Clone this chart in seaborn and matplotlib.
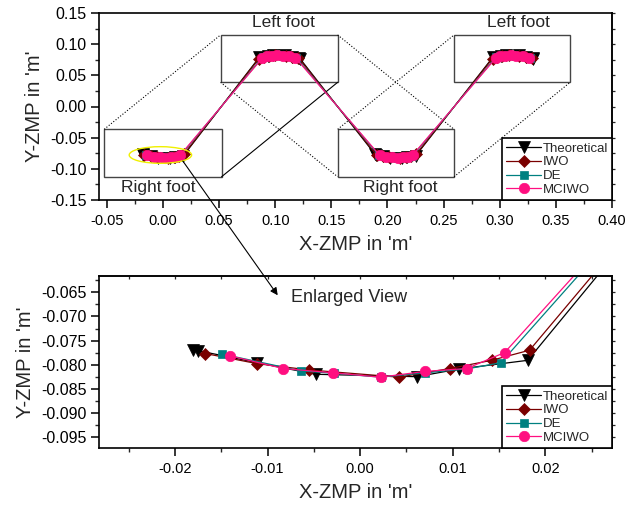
import matplotlib
matplotlib.use("Agg")
import matplotlib.pyplot as plt
from matplotlib.patches import Rectangle, Ellipse
from matplotlib.ticker import MultipleLocator, FormatStrFormatter
import numpy as np
import pandas as pd
import seaborn as sns

# ZMP trajectories: right foot, left foot, right foot, left foot (x, y in metres)
theo_x = [-0.0180, -0.0175, -0.0111, -0.0048, 0.0061, 0.0107, 0.0181,
          0.0859, 0.0933, 0.0979, 0.1088, 0.1151, 0.1215, 0.1220,
          0.1890, 0.1895, 0.1959, 0.2022, 0.2131, 0.2177, 0.2251,
          0.2939, 0.3013, 0.3059, 0.3168, 0.3231, 0.3295, 0.3300]
theo_y = [-0.0769, -0.0771, -0.0796, -0.0820, -0.0825, -0.0809, -0.0791,
          0.0791, 0.0809, 0.0825, 0.0820, 0.0796, 0.0771, 0.0769,
          -0.0769, -0.0771, -0.0796, -0.0820, -0.0825, -0.0809, -0.0791,
          0.0791, 0.0809, 0.0825, 0.0820, 0.0796, 0.0771, 0.0769]

iwo_x = [-0.0167, -0.0111, -0.0055, 0.0042, 0.0097, 0.0142, 0.0183,
         0.0857, 0.0898, 0.0943, 0.0998, 0.1095, 0.1151, 0.1207,
         0.1903, 0.1959, 0.2015, 0.2112, 0.2167, 0.2212, 0.2253,
         0.2937, 0.2978, 0.3023, 0.3078, 0.3175, 0.3231, 0.3287]
iwo_y = [-0.0777, -0.0798, -0.0811, -0.0826, -0.0808, -0.0791, -0.0770,
         0.0770, 0.0791, 0.0808, 0.0826, 0.0811, 0.0798, 0.0777,
         -0.0777, -0.0798, -0.0811, -0.0826, -0.0808, -0.0791, -0.0770,
         0.0770, 0.0791, 0.0808, 0.0826, 0.0811, 0.0798, 0.0777]

de_x = [-0.0149, -0.0064, -0.0028, 0.0022, 0.0070, 0.0115, 0.0152,
        0.0888, 0.0925, 0.0970, 0.1018, 0.1068, 0.1104, 0.1189,
        0.1921, 0.2006, 0.2042, 0.2092, 0.2140, 0.2185, 0.2222,
        0.2968, 0.3005, 0.3050, 0.3098, 0.3148, 0.3184, 0.3269]
de_y = [-0.0778, -0.0813, -0.0818, -0.0826, -0.0817, -0.0809, -0.0796,
        0.0796, 0.0809, 0.0817, 0.0826, 0.0818, 0.0813, 0.0778,
        -0.0778, -0.0813, -0.0818, -0.0826, -0.0817, -0.0809, -0.0796,
        0.0796, 0.0809, 0.0817, 0.0826, 0.0818, 0.0813, 0.0778]

mciwo_x = [-0.0140, -0.0083, -0.0029, 0.0022, 0.0070, 0.0115, 0.0156,
           0.0884, 0.0925, 0.0970, 0.1018, 0.1069, 0.1123, 0.1180,
           0.1930, 0.1987, 0.2041, 0.2092, 0.2140, 0.2185, 0.2226,
           0.2964, 0.3005, 0.3050, 0.3098, 0.3149, 0.3203, 0.3260]
mciwo_y = [-0.0782, -0.0808, -0.0817, -0.0826, -0.0814, -0.0808, -0.0775,
           0.0775, 0.0808, 0.0814, 0.0826, 0.0817, 0.0808, 0.0782,
           -0.0782, -0.0808, -0.0817, -0.0826, -0.0814, -0.0808, -0.0775,
           0.0775, 0.0808, 0.0814, 0.0826, 0.0817, 0.0808, 0.0782]

series_names = ["Theoretical", "IWO", "DE", "MCIWO"]
series_colors = ["#000000", "#7a0000", "#008080", "#ff0f80"]
series_markers = ["v", "D", "s", "o"]
series_sizes = [8.5, 6.5, 6, 7.5]

# footprint boxes (x0, y0, x1, y1) and their captions
foot_boxes = [(-0.0524, -0.1127, 0.0522, -0.0366),
              (0.0513, 0.0388, 0.1556, 0.1148),
              (0.1556, -0.1127, 0.2593, -0.0366),
              (0.2593, 0.0388, 0.3627, 0.1148)]
foot_labels = ["Right foot", "Left foot", "Right foot", "Left foot"]
foot_label_pos = [(-0.0045, -0.1295), (0.1070, 0.1355),
                  (0.2111, -0.1295), (0.3166, 0.1355)]

frames = []
for name, xs, ys in zip(series_names,
                        [theo_x, iwo_x, de_x, mciwo_x],
                        [theo_y, iwo_y, de_y, mciwo_y]):
    frames.append(pd.DataFrame({"x": xs, "y": ys, "series": name,
                                "order": np.arange(len(xs))}))
df = pd.concat(frames, ignore_index=True)

sns.set_style("ticks")
plt.rcParams["font.family"] = ["Liberation Sans", "DejaVu Sans"]
plt.rcParams["axes.linewidth"] = 1.2

fig = plt.figure(figsize=(6.26, 5.09), dpi=100)
ax1 = fig.add_axes([99 / 626, 1 - 200 / 509, 513 / 626, 187 / 509])
ax2 = fig.add_axes([99 / 626, 1 - 448 / 509, 513 / 626, 172 / 509])


def draw_series(ax):
    for name, col, mk, ms in zip(series_names, series_colors,
                                 series_markers, series_sizes):
        sub = df[df["series"] == name]
        sns.lineplot(data=sub, x="x", y="y", sort=False, estimator=None,
                     color=col, marker=mk, markersize=ms,
                     markeredgecolor=col, markeredgewidth=0.5,
                     linewidth=0.9, label=name, ax=ax)


def style_axes(ax, xmaj, xmin, ymaj, ymin, xfmt, yfmt):
    ax.xaxis.set_major_locator(MultipleLocator(xmaj))
    ax.xaxis.set_minor_locator(MultipleLocator(xmin))
    ax.yaxis.set_major_locator(MultipleLocator(ymaj))
    ax.yaxis.set_minor_locator(MultipleLocator(ymin))
    ax.xaxis.set_major_formatter(FormatStrFormatter(xfmt))
    ax.yaxis.set_major_formatter(FormatStrFormatter(yfmt))
    ax.tick_params(which="major", direction="out", length=6, width=1.1,
                   colors="black", pad=3)
    ax.tick_params(axis="x", which="major", labelsize=10.5, pad=4)
    ax.tick_params(axis="y", which="major", labelsize=11.5)
    ax.tick_params(which="minor", direction="out", length=3, width=1.0)
    for sp in ax.spines.values():
        sp.set_visible(True)
        sp.set_color("black")
    ax.set_xlabel("X-ZMP in 'm'", fontsize=14.5, labelpad=5)
    ax.set_ylabel("Y-ZMP in 'm'", fontsize=14.5, labelpad=4)
    leg = ax.legend(loc="lower right", borderaxespad=0, fontsize=9.5,
                    frameon=True, fancybox=False, edgecolor="black",
                    framealpha=1, handlelength=2.6, handletextpad=0.15,
                    labelspacing=0.12, borderpad=0.3)
    leg.get_frame().set_linewidth(1.2)
    sec = ax.secondary_yaxis("right")
    sec.yaxis.set_major_locator(MultipleLocator(ymin))
    sec.tick_params(direction="out", length=2.5, width=0.9, labelright=False)
    sec.spines["right"].set_linewidth(1.2)


# ---- overview of the full walk ----
draw_series(ax1)
ax1.set_xlim(-0.057, 0.40)
ax1.set_ylim(-0.15, 0.15)
style_axes(ax1, 0.05, 0.025, 0.05, 0.025, "%.2f", "%.2f")

for (x0, y0, x1, y1) in foot_boxes:
    ax1.add_patch(Rectangle((x0, y0), x1 - x0, y1 - y0, fill=False,
                            edgecolor="#444444", linewidth=1.0, zorder=1))
for txt, (tx, ty) in zip(foot_labels, foot_label_pos):
    ax1.text(tx, ty, txt, fontsize=12.5, ha="center", va="center")

# links between consecutive footprint boxes
b = foot_boxes
links = [((b[0][0], b[0][3]), (b[1][0], b[1][3]), ":"),
         ((b[0][2], b[0][1]), (b[1][2], b[1][1]), "-"),
         ((b[1][2], b[1][3]), (b[2][2], b[2][3]), ":"),
         ((b[1][0], b[1][1]), (b[2][0], b[2][1]), ":"),
         ((b[2][0], b[2][3]), (b[3][0], b[3][3]), ":"),
         ((b[2][2], b[2][1]), (b[3][2], b[3][1]), ":")]
for (p, q, ls) in links:
    ax1.plot([p[0], q[0]], [p[1], q[1]], color="black", linestyle=ls,
             linewidth=0.8, zorder=1)

ax1.add_patch(Ellipse((-0.0023, -0.0778), 0.0556, 0.0267, fill=False,
                      edgecolor="#f0f000", linewidth=1.0, zorder=5))

# ---- enlarged view of the first right footprint ----
draw_series(ax2)
ax2.set_xlim(-0.0282, 0.0272)
ax2.set_ylim(-0.0973, -0.0616)
style_axes(ax2, 0.01, 0.005, 0.005, 0.0025, "%.2f", "%.3f")
top = ax2.secondary_xaxis("top")
top.xaxis.set_major_locator(MultipleLocator(0.005))
top.tick_params(direction="in", length=2.5, width=0.9, labeltop=False)
top.spines["top"].set_linewidth(1.2)

ax2.text(-0.0075, -0.0661, "Enlarged View", fontsize=13, ha="left",
         va="center")

ax2.annotate("", xy=(-0.0089, -0.0656), xycoords=ax2.transData,
             xytext=(0.0177, -0.0875), textcoords=ax1.transData,
             annotation_clip=False,
             arrowprops=dict(arrowstyle="-|>", color="black", lw=0.8,
                             mutation_scale=11, shrinkA=0, shrinkB=0))

fig.savefig("out.png", dpi=100)
